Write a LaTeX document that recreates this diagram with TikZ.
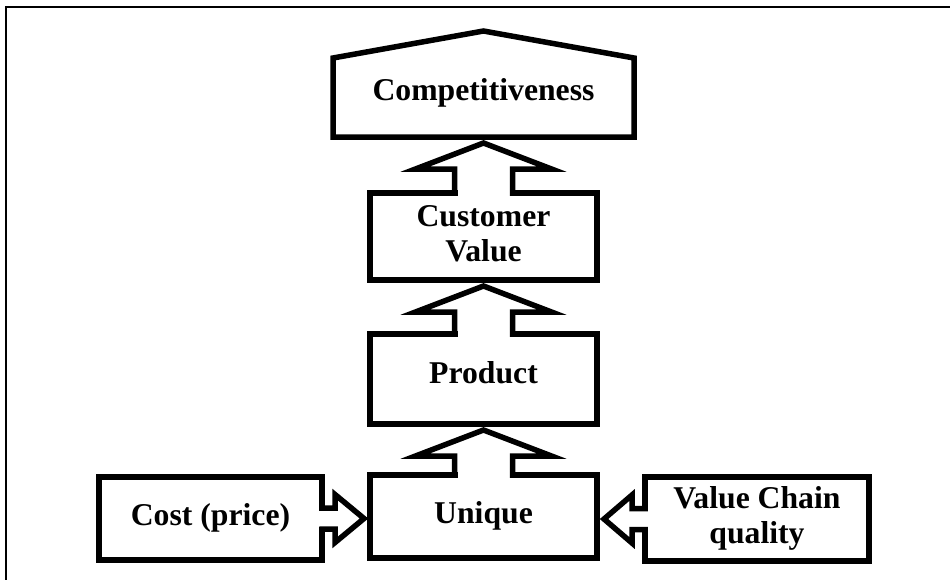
\documentclass[tikz,border=0pt]{standalone}
\usepackage{fontspec}
\setmainfont{Liberation Serif}
\usetikzlibrary{calc}

\newcommand\labelfont{\fontsize{31.7}{35}\selectfont\bfseries}

% Hollow block arrow pointing up from the top side of #1 to the bottom side of #2
\newcommand\vblockarrow[2]{%
  \fill[white] ($(#1.north)+(-26,-3.5)$) rectangle ($(#1.north)+(26,3.5)$);
  \draw[boxline] ($(#1.north)+(-29,2.75)$) -- ($(#2.south)+(-29,32)$)
    -- ($(#2.south)+(-68,32)$) -- ($(#2.south)+(0,6)$) -- ($(#2.south)+(68,32)$)
    -- ($(#2.south)+(29,32)$) -- ($(#1.north)+(29,2.75)$);
}

\tikzset{
  x=1pt, y=-1pt,
  boxline/.style={line width=5.5pt, line join=miter},
  block/.style={boxline, draw, rectangle, inner sep=0pt, outer sep=0pt,
    align=center, font=\labelfont},
  frameline/.style={line width=2pt},
}

\begin{document}
\begin{tikzpicture}
\useasboundingbox (0,0) rectangle (950,579);

% outer frame
\draw[frameline] (5.5,600) -- (5.5,7) -- (970,7);

% boxes (the invisible rules lift single-line labels a little above centre)
\node[block, draw=none, minimum width=301pt, minimum height=79pt] (comp) at (483.5,97.5)
  {\rule[-19.5pt]{0pt}{44pt}Competitiveness};
\node[block, minimum width=227pt, minimum height=87pt] (cv) at (483.5,236.5)
  {\strut Customer\\\strut Value};
\node[block, minimum width=227pt, minimum height=90pt] (prod) at (483.5,379)
  {\rule[-16.5pt]{0pt}{41pt}Product};
\node[block, minimum width=227pt, minimum height=83pt] (uniq) at (483.5,516.5)
  {\strut Unique};
\node[block, minimum width=223pt, minimum height=83pt] (cost) at (210.5,518.5)
  {\strut Cost (price)};
\node[block, minimum width=224pt, minimum height=84pt] (vc) at (757,519)
  {\strut Value Chain\\\strut quality};

% roofed outline of the top box
\draw[boxline] (comp.south west) -- (comp.north west) -- ($(comp.north)+(0,-27)$)
  -- (comp.north east) -- (comp.south east) -- cycle;

% upward arrows
\vblockarrow{cv}{comp}
\vblockarrow{prod}{cv}
\vblockarrow{uniq}{prod}

% cost -> unique
\fill[white] ($(cost.east)+(-3.5,-8)$) rectangle ($(cost.east)+(3.5,8)$);
\draw[boxline] ($(cost.east)+(-2.75,-10.5)$) -- ($(cost.east)+(13,-10.5)$)
  -- ($(cost.east)+(13,-24)$) -- ($(uniq.west |- cost.east)+(-6,0)$)
  -- ($(cost.east)+(13,24)$) -- ($(cost.east)+(13,10.5)$) -- ($(cost.east)+(-2.75,10.5)$);

% value chain -> unique
\fill[white] ($(vc.west)+(-3.5,-8)$) rectangle ($(vc.west)+(3.5,8)$);
\draw[boxline] ($(vc.west)+(2.75,-10.5)$) -- ($(vc.west)+(-13,-10.5)$)
  -- ($(vc.west)+(-13,-24)$) -- ($(uniq.east |- vc.west)+(7,0)$)
  -- ($(vc.west)+(-13,24)$) -- ($(vc.west)+(-13,10.5)$) -- ($(vc.west)+(2.75,10.5)$);
\end{tikzpicture}
\end{document}
